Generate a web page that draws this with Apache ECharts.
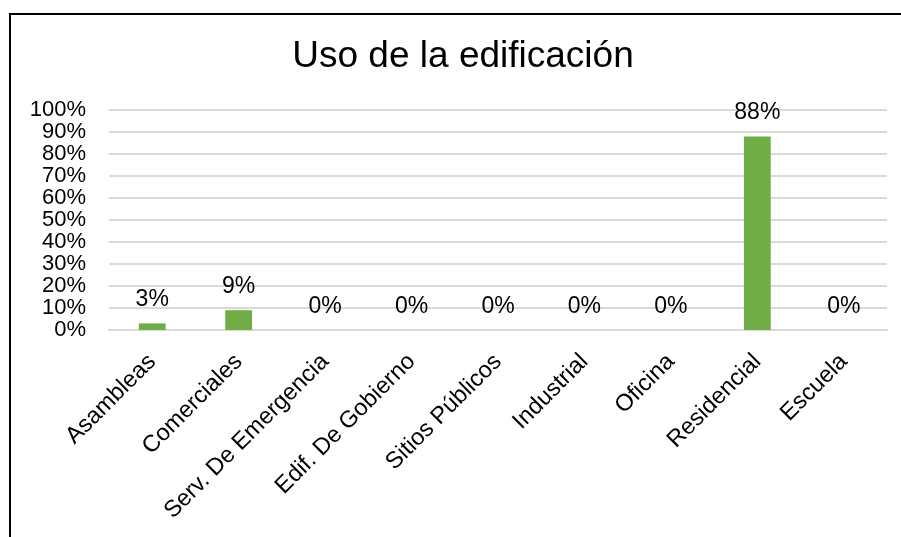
<!DOCTYPE html>
<html>
<head>
<meta charset="utf-8">
<script src="https://cdn.jsdelivr.net/npm/echarts@6/dist/echarts.min.js"></script>
<style>
html,body{margin:0;padding:0;background:#fff;}
#chart{width:901px;height:537px;}
</style>
</head>
<body>
<div id="chart"></div>
<script>
const titleText = 'Uso de la edificación';
const categories = ['Asambleas', 'Comerciales', 'Serv. De Emergencia', 'Edif. De Gobierno', 'Sitios Públicos', 'Industrial', 'Oficina', 'Residencial', 'Escuela'];
const values = [3, 9, 0, 0, 0, 0, 0, 88, 0];
const yMin = 0, yMax = 100, yStep = 10;

const font = '"Liberation Sans", Arial, sans-serif';
const chart = echarts.init(document.getElementById('chart'), null, {renderer: 'canvas'});
chart.setOption({
  animation: false,
  backgroundColor: '#fff',
  graphic: [{
    type: 'rect', z: 100,
    shape: {x: 10, y: 14, width: 1000, height: 1000},
    style: {fill: 'none', stroke: '#000', lineWidth: 2}
  }],
  title: {
    text: titleText,
    left: 458, top: 33, textAlign: 'center',
    textStyle: {fontFamily: font, fontSize: 37, fontWeight: 'normal', color: '#000'}
  },
  grid: {left: 109, right: 14, top: 110, bottom: 207, containLabel: false},
  xAxis: {
    type: 'category', data: categories,
    axisLine: {show: true, lineStyle: {color: '#d9d9d9', width: 2}},
    axisTick: {show: false},
    axisLabel: {rotate: 45, margin: 28, interval: 0, fontFamily: font, fontSize: 23.5, color: '#000'}
  },
  yAxis: {
    type: 'value', min: yMin, max: yMax, interval: yStep,
    axisLine: {show: false}, axisTick: {show: false},
    splitLine: {lineStyle: {color: '#d9d9d9', width: 2}},
    axisLabel: {formatter: v => v + '%', margin: 23, fontFamily: font, fontSize: 22, color: '#000'}
  },
  series: [{
    type: 'bar', data: values, barWidth: '31%',
    itemStyle: {color: '#70ad47'},
    label: {show: true, position: 'top', distance: 12, formatter: p => p.value + '%',
      fontFamily: font, fontSize: 23, color: '#000'}
  }]
});
</script>
</body>
</html>
